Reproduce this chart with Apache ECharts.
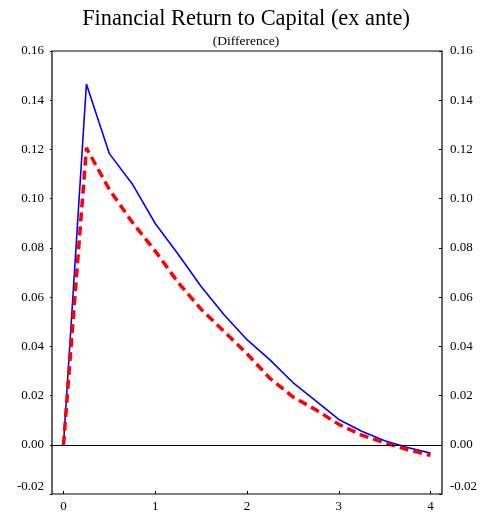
<!DOCTYPE html>
<html>
<head>
<meta charset="utf-8">
<script src="https://cdn.jsdelivr.net/npm/echarts@6/dist/echarts.min.js"></script>
<style>
html,body{margin:0;padding:0;background:#fff;}
#chart{width:492px;height:515px;}
</style>
</head>
<body>
<div id="chart"></div>
<script>
var titleText = 'Financial Return to Capital (ex ante)';
var subtitleText = '(Difference)';
var xValues = [0, 0.25, 0.5, 0.75, 1, 1.25, 1.5, 1.75, 2, 2.25, 2.5, 2.75, 3, 3.25, 3.5, 3.75, 4];
var blueSeries = [0, 0.1466, 0.1183, 0.1060, 0.0899, 0.0774, 0.0643, 0.0528, 0.0427, 0.0345, 0.0253, 0.0178, 0.0103, 0.0055, 0.0016, -0.0011, -0.0034];
var redSeries = [0, 0.1206, 0.1037, 0.0904, 0.0787, 0.0659, 0.0551, 0.0461, 0.0370, 0.0270, 0.0195, 0.0142, 0.0083, 0.0039, 0.0008, -0.0020, -0.0043];
var xTicks = [0, 1, 2, 3, 4];
var yMin = -0.02, yMax = 0.16, yStep = 0.02;

function pairs(vals) {
  return xValues.map(function (x, i) { return [x, vals[i]]; });
}
var fontFam = '"Liberation Serif", "DejaVu Serif", serif';
function yLabel(v) {
  var s = v.toFixed(2);
  if (Math.abs(v - yMin) < 1e-9) return '{low|' + s + '}';
  return s;
}
var labelStyle = {
  color: '#000', fontFamily: fontFam, fontSize: 13,
  formatter: yLabel,
  rich: { low: { fontFamily: fontFam, fontSize: 13, color: '#000', padding: [0, 0, 14, 0] } }
};

var chart = echarts.init(document.getElementById('chart'), null, { renderer: 'canvas' });
chart.setOption({
  animation: false,
  backgroundColor: '#fff',
  title: [
    { text: titleText, left: 'center', top: 3,
      textStyle: { fontFamily: fontFam, fontSize: 22.4, fontWeight: 'normal', color: '#000' } },
    { text: subtitleText, left: 'center', top: 29,
      textStyle: { fontFamily: fontFam, fontSize: 13.5, fontWeight: 'normal', color: '#000' } }
  ],
  grid: { left: 52, right: 50, top: 51, bottom: 21, show: true, borderColor: '#000', borderWidth: 1.2, backgroundColor: 'transparent' },
  xAxis: {
    type: 'value', min: -0.125, max: 4.125,
    splitLine: { show: false },
    axisLine: { show: false, onZero: false },
    axisTick: { show: true, inside: true, length: 3, customValues: xTicks, lineStyle: { color: '#000' } },
    axisLabel: { customValues: xTicks, color: '#000', fontFamily: fontFam, fontSize: 13, margin: 6,
      formatter: function (v) { return String(v); } }
  },
  yAxis: [
    { type: 'value', position: 'left', min: yMin, max: yMax, interval: yStep,
      splitLine: { show: false }, axisLine: { show: false, onZero: false },
      axisTick: { show: true, inside: false, length: 2, lineStyle: { color: '#000' } },
      axisLabel: Object.assign({ margin: 8 }, labelStyle) },
    { type: 'value', position: 'right', min: yMin, max: yMax, interval: yStep,
      splitLine: { show: false }, axisLine: { show: false, onZero: false },
      axisTick: { show: true, inside: true, length: 3, lineStyle: { color: '#000' } },
      axisLabel: Object.assign({ margin: 8 }, labelStyle) }
  ],
  series: [
    { type: 'line', data: pairs(blueSeries), symbol: 'none', z: 3,
      lineStyle: { color: '#0000ff', width: 1.6 },
      markLine: { silent: true, symbol: 'none', label: { show: false },
        lineStyle: { color: '#000', width: 1, type: 'solid' }, data: [{ yAxis: 0 }] } },
    { type: 'line', data: pairs(redSeries), symbol: 'none', z: 4,
      lineStyle: { color: '#ff0000', width: 3.5, type: [9, 5] } }
  ]
});
</script>
</body>
</html>
